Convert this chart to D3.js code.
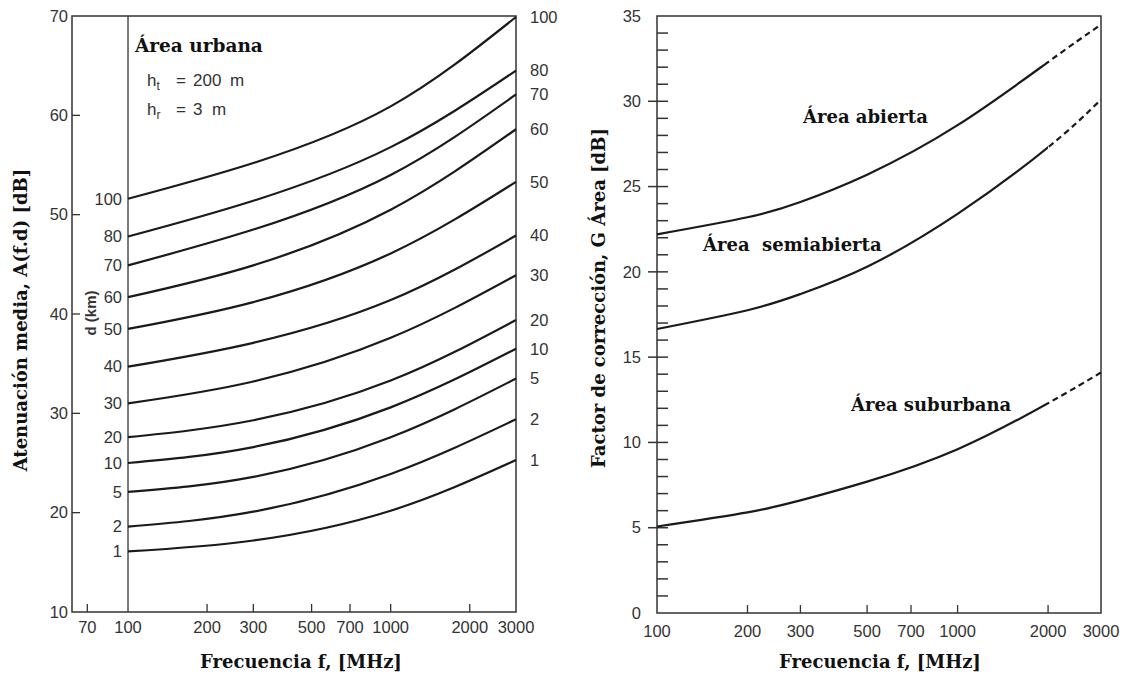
<!DOCTYPE html>
<html>
<head>
<meta charset="utf-8">
<script src="https://cdn.jsdelivr.net/npm/d3@7"></script>
<style>
  body { margin: 0; background: #fff; }
  .tick-label { font-family: "Liberation Sans", Arial, sans-serif; font-size: 16.5px; fill: #333; }
  .serif { font-family: "DejaVu Serif", "Liberation Serif", serif; font-weight: bold; fill: #111; font-size: 18px; }
</style>
</head>
<body>
<div id="chart"></div>
<script>
// ---- data ----
// left chart: Okumura median attenuation, urban, ht=200 m, hr=3 m
var freqPoints = [100, 300, 1000, 3000];
var distances = [1, 2, 5, 10, 20, 30, 40, 50, 60, 70, 80, 100];
var atten_d1 = [16.1, 17.2, 20.2, 25.3];
var atten_d2 = [18.6, 20.1, 23.9, 29.4];
var atten_d5 = [22.1, 23.6, 27.6, 33.5];
var atten_d10 = [25.0, 26.6, 30.6, 36.5];
var atten_d20 = [27.6, 29.3, 33.3, 39.4];
var atten_d30 = [31.0, 33.2, 37.6, 43.9];
var atten_d40 = [34.7, 37.1, 41.4, 47.9];
var atten_d50 = [38.5, 41.2, 46.1, 53.3];
var atten_d60 = [41.7, 44.9, 50.5, 58.6];
var atten_d70 = [44.9, 48.5, 54.0, 62.1];
var atten_d80 = [47.8, 51.4, 56.8, 64.5];
var atten_d100 = [51.6, 55.2, 60.9, 69.9];
var attenRows = [atten_d1, atten_d2, atten_d5, atten_d10, atten_d20, atten_d30,
                 atten_d40, atten_d50, atten_d60, atten_d70, atten_d80, atten_d100];
var leftXTicks = [70, 100, 200, 300, 500, 700, 1000, 2000, 3000];
var leftYTicks = [10, 20, 30, 40, 50, 60, 70];

// right chart: area correction factor
var corrFreqs = [100, 200, 300, 500, 1000, 2000, 3000];
var openArea = [22.2, 23.2, 24.1, 25.7, 28.6, 32.3, 34.5];
var semiOpenArea = [16.65, 17.75, 18.7, 20.3, 23.4, 27.3, 30.1];
var suburbanArea = [5.07, 5.9, 6.6, 7.7, 9.6, 12.3, 14.1];
var rightXTicks = [100, 200, 300, 500, 700, 1000, 2000, 3000];
var rightYTicks = [0, 5, 10, 15, 20, 25, 30, 35];

var W = 1127, H = 675;
var svg = d3.select("#chart").append("svg")
  .attr("width", W).attr("height", H)
  .style("display", "block");
svg.append("rect").attr("width", W).attr("height", H).attr("fill", "#fff");

var ink = "#1a1a1a";

// ================= LEFT CHART =================
var lx = d3.scaleLog().domain([61.2, 3000]).range([72, 516]);
var ly = d3.scaleLinear().domain([10, 70]).range([612, 16]);

var left = svg.append("g");

// frame
left.append("rect")
  .attr("x", lx.range()[0]).attr("y", ly(70))
  .attr("width", lx.range()[1] - lx.range()[0]).attr("height", ly(10) - ly(70))
  .attr("fill", "none").attr("stroke", "#333").attr("stroke-width", 1.5);
// vertical line at 100 MHz
left.append("line")
  .attr("x1", lx(100)).attr("x2", lx(100)).attr("y1", ly(70)).attr("y2", ly(10))
  .attr("stroke", "#333").attr("stroke-width", 1.3);

// y ticks (inside)
left.selectAll(".ytk").data(leftYTicks.filter(d => d > 10 && d < 70)).enter()
  .append("line")
  .attr("x1", 72).attr("x2", 80)
  .attr("y1", d => ly(d)).attr("y2", d => ly(d))
  .attr("stroke", "#333").attr("stroke-width", 1.3);
left.selectAll(".ylab").data(leftYTicks).enter()
  .append("text").attr("class", "tick-label")
  .attr("x", 68).attr("y", d => ly(d)).attr("dy", "0.35em")
  .attr("text-anchor", "end").text(d => d);

// x ticks (inside, upward)
left.selectAll(".xtk").data(leftXTicks.filter(d => d != 100 && d != 3000)).enter()
  .append("line")
  .attr("x1", d => lx(d)).attr("x2", d => lx(d))
  .attr("y1", ly(10)).attr("y2", ly(10) - 8)
  .attr("stroke", "#333").attr("stroke-width", 1.3);
left.selectAll(".xlab").data(leftXTicks).enter()
  .append("text").attr("class", "tick-label")
  .attr("x", d => lx(d)).attr("y", 633)
  .attr("text-anchor", "middle").text(d => d);

// curves
var leftLine = d3.line()
  .x((d, i) => lx(freqPoints[i]))
  .y(d => ly(d))
  .curve(d3.curveNatural);
left.selectAll(".curve").data(attenRows).enter()
  .append("path")
  .attr("d", leftLine)
  .attr("fill", "none").attr("stroke", ink).attr("stroke-width", 2.2);

// distance labels at both ends
left.selectAll(".dl").data(distances).enter()
  .append("text").attr("class", "tick-label")
  .attr("x", 122).attr("y", (d, i) => ly(attenRows[i][0])).attr("dy", "0.35em")
  .attr("text-anchor", "end").text(d => d);
left.selectAll(".dr").data(distances).enter()
  .append("text").attr("class", "tick-label")
  .attr("x", 530).attr("y", (d, i) => ly(attenRows[i][freqPoints.length - 1])).attr("dy", "0.35em")
  .attr("text-anchor", "start").text(d => d);

left.append("text")
  .attr("transform", "translate(96,313) rotate(-90)")
  .attr("text-anchor", "middle")
  .style("font-family", "Liberation Sans, Arial, sans-serif")
  .style("font-weight", "bold").style("font-size", "15px").style("fill", "#333")
  .text("d (km)");

// annotations
left.append("text").attr("class", "serif")
  .attr("x", 135).attr("y", 52).style("font-size", "18.5px")
  .text("Área urbana");
var ht = left.append("text").attr("class", "tick-label").style("font-size", "17px")
  .attr("y", 86);
ht.append("tspan").attr("x", 147).text("h");
ht.append("tspan").attr("dy", 4).style("font-size", "12px").text("t");
ht.append("tspan").attr("dy", -4).attr("x", 176).text("=");
ht.append("tspan").attr("x", 193).text("200");
ht.append("tspan").attr("x", 230).text("m");
var hr = left.append("text").attr("class", "tick-label").style("font-size", "17px")
  .attr("y", 115);
hr.append("tspan").attr("x", 147).text("h");
hr.append("tspan").attr("dy", 4).style("font-size", "12px").text("r");
hr.append("tspan").attr("dy", -4).attr("x", 176).text("=");
hr.append("tspan").attr("x", 193).text("3");
hr.append("tspan").attr("x", 212).text("m");

// axis titles
left.append("text").attr("class", "serif")
  .attr("transform", "translate(27,320) rotate(-90)")
  .attr("text-anchor", "middle")
  .text("Atenuación media, A(f.d) [dB]");
left.append("text").attr("class", "serif")
  .attr("x", 301).attr("y", 668)
  .attr("text-anchor", "middle")
  .text("Frecuencia f, [MHz]");

// ================= RIGHT CHART =================
var rx = d3.scaleLog().domain([100, 3000]).range([657, 1101]);
var ry = d3.scaleLinear().domain([0, 35]).range([613, 16]);

var right = svg.append("g");
right.append("rect")
  .attr("x", rx(100)).attr("y", ry(35))
  .attr("width", rx(3000) - rx(100)).attr("height", ry(0) - ry(35))
  .attr("fill", "none").attr("stroke", "#333").attr("stroke-width", 1.5);

// y ticks: major every 5 (crossing), minor every 1 (inside)
var minorY = d3.range(1, 35).filter(v => v % 5 != 0);
right.selectAll(".ymin").data(minorY).enter()
  .append("line")
  .attr("x1", rx(100)).attr("x2", rx(100) + 11)
  .attr("y1", d => ry(d)).attr("y2", d => ry(d))
  .attr("stroke", "#333").attr("stroke-width", 1.5);
right.selectAll(".ymaj").data(rightYTicks.filter(d => d > 0 && d < 35)).enter()
  .append("line")
  .attr("x1", rx(100) - 9).attr("x2", rx(100) + 11)
  .attr("y1", d => ry(d)).attr("y2", d => ry(d))
  .attr("stroke", "#333").attr("stroke-width", 1.5);
right.selectAll(".ylab").data(rightYTicks).enter()
  .append("text").attr("class", "tick-label")
  .attr("x", 641).attr("y", d => ry(d)).attr("dy", "0.35em")
  .attr("text-anchor", "end").text(d => d);

right.selectAll(".xtk").data(rightXTicks.filter(d => d != 100 && d != 3000)).enter()
  .append("line")
  .attr("x1", d => rx(d)).attr("x2", d => rx(d))
  .attr("y1", ry(0)).attr("y2", ry(0) - 8)
  .attr("stroke", "#333").attr("stroke-width", 1.3);
right.selectAll(".xlab").data(rightXTicks).enter()
  .append("text").attr("class", "tick-label")
  .attr("x", d => rx(d)).attr("y", 637)
  .attr("text-anchor", "middle").text(d => d);

// solid up to 2000 MHz, dashed beyond: same curve, two clip regions
var defs = svg.append("defs");
defs.append("clipPath").attr("id", "clipSolid").append("rect")
  .attr("x", 0).attr("y", 0).attr("width", rx(2000)).attr("height", H);
defs.append("clipPath").attr("id", "clipDash").append("rect")
  .attr("x", rx(2000)).attr("y", 0).attr("width", W - rx(2000)).attr("height", H);

var rightLine = d3.line()
  .x((d, i) => rx(corrFreqs[i]))
  .y(d => ry(d))
  .curve(d3.curveNatural);
[openArea, semiOpenArea, suburbanArea].forEach(function(series) {
  right.append("path").attr("d", rightLine(series))
    .attr("clip-path", "url(#clipSolid)")
    .attr("fill", "none").attr("stroke", ink).attr("stroke-width", 2.2);
  right.append("path").attr("d", rightLine(series))
    .attr("clip-path", "url(#clipDash)")
    .attr("fill", "none").attr("stroke", ink).attr("stroke-width", 2.2)
    .attr("stroke-dasharray", "6,4").attr("stroke-dashoffset", 2);
});

right.append("text").attr("class", "serif")
  .attr("x", 803).attr("y", 123).text("Área abierta");
right.append("text").attr("class", "serif").attr("xml:space", "preserve")
  .attr("x", 703).attr("y", 251).text("Área  semiabierta");
right.append("text").attr("class", "serif")
  .attr("x", 851).attr("y", 411).text("Área suburbana");

right.append("text").attr("class", "serif")
  .attr("transform", "translate(605,298) rotate(-90)")
  .attr("text-anchor", "middle")
  .text("Factor de corrección, G Área [dB]");
right.append("text").attr("class", "serif")
  .attr("x", 880).attr("y", 668)
  .attr("text-anchor", "middle")
  .text("Frecuencia f, [MHz]");
</script>
</body>
</html>
